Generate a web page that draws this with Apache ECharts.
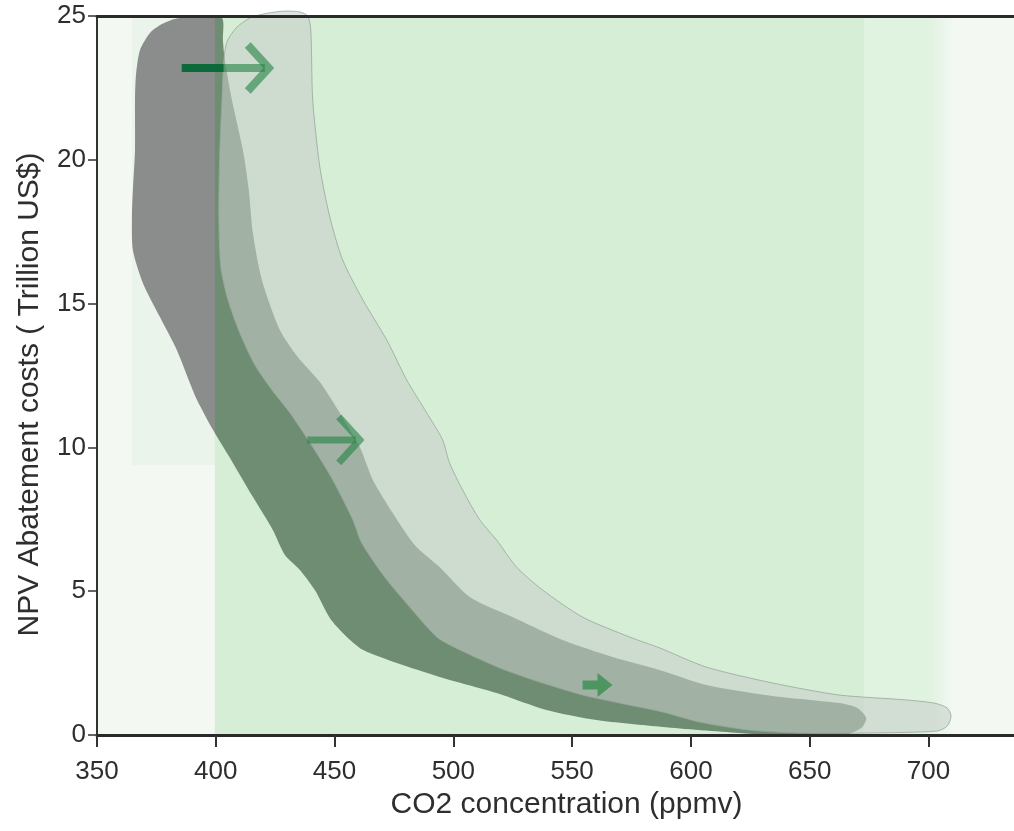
<!DOCTYPE html>
<html>
<head>
<meta charset="utf-8">
<script src="https://cdn.jsdelivr.net/npm/echarts@6/dist/echarts.min.js"></script>
<style>
  html, body { margin: 0; padding: 0; background: #ffffff; }
  #chart { width: 1014px; height: 831px; }
</style>
</head>
<body>
<div id="chart"></div>
<script>
// ---- tick labels ----
const xTicks = [350, 400, 450, 500, 550, 600, 650, 700];
const yTicks = [0, 5, 10, 15, 20, 25];

// ---- background shading zones (ppmv / trillion US$) ----
const bgZoneStart  = [364.7, 399.6, 673.0, 700.3];
const bgZoneEnd    = [399.6, 673.0, 700.3, 710.8];
const bgZoneBottom = [9.39, 0, 0, 0];

// ---- dark band (earlier estimate) outline ----
const darkBandX = [372.3,377.3,382.8,393.3,402.6,403.0,403.8,406.8,411.4,413.9,415.6,419.4,427.0,434.5,443.8,452.2,460.6,466.1,474.5,483.7,494.2,506.9,524.9,546.0,567.0,586.8,606.5,634.3,662.5,670.0,673.8,671.7,664.6,645.6,620.4,588.0,560.3,539.2,518.2,494.2,476.2,461.9,454.3,448.0,441.7,435.4,429.1,424.0,415.6,407.2,398.8,392.1,389.1,383.6,376.5,369.3,365.1,364.7,365.1,366.0,366.0,366.4,368.1];
const darkBandY = [24.41,24.72,24.90,24.97,24.93,24.17,23.47,22.08,20.34,18.95,17.46,15.82,14.08,13.14,12.27,11.20,10.01,8.87,7.72,6.61,5.84,4.80,4.10,3.30,2.71,2.26,1.74,1.36,1.11,0.94,0.59,0.24,0.00,-0.07,0.07,0.28,0.52,0.87,1.46,2.02,2.50,2.96,3.48,4.07,5.04,5.74,6.26,7.13,8.28,9.46,10.61,11.65,12.24,13.39,14.53,15.72,16.86,18.01,18.95,20.34,22.08,22.95,23.82];

// ---- light band (shifted estimate) outline ----
const lightBandX = [403.4,404.7,408.5,414.3,421.9,429.1,435.4,438.7,440.0,440.8,443.8,448.0,453.4,461.9,472.0,480.4,488.8,495.5,498.4,503.9,511.1,518.2,526.6,537.6,554.4,574.1,586.8,606.5,634.3,662.5,690.6,702.4,707.9,709.5,707.9,703.7,676.3,645.6,624.6,603.6,588.0,569.9,554.4,536.3,519.5,502.6,493.0,481.6,471.1,461.4,457.7,449.2,440.8,431.2,423.6,416.4,410.1,405.1,402.1,401.3,401.7,402.6];
const lightBandY = [23.47,24.10,24.58,24.93,25.10,25.17,25.14,25.00,24.51,22.08,19.75,18.01,16.52,15.13,13.73,12.34,11.20,10.26,9.46,8.52,7.48,6.78,5.84,5.04,4.10,3.41,3.03,2.36,1.81,1.39,1.22,1.11,0.94,0.66,0.31,0.14,0.07,0.07,0.17,0.45,0.80,1.11,1.39,1.84,2.33,2.96,3.41,4.45,5.49,6.68,7.48,8.87,10.01,11.20,12.00,12.87,13.98,15.13,16.27,18.01,20.34,22.08];

// ---- shift arrows ----
const arrowTail = [385.7, 438.7, 554.4];
const arrowTip  = [422.3, 460.6, 567.0];
const arrowY    = [23.19, 10.26, 1.74];
const arrowKind = ['line', 'line', 'block'];

const FONT = '"Liberation Sans", Arial, Helvetica, sans-serif';
const TEXT = '#2e2e2e';

// horizontal crossings of a polygon -> inside spans
function spans(xs, ys, y) {
  const c = [];
  const n = xs.length;
  for (let i = 0; i < n; i++) {
    const j = (i + 1) % n;
    if ((ys[i] > y) !== (ys[j] > y)) {
      c.push(xs[i] + (y - ys[i]) * (xs[j] - xs[i]) / (ys[j] - ys[i]));
    }
  }
  c.sort((a, b) => a - b);
  const out = [];
  for (let k = 0; k + 1 < c.length; k += 2) out.push([c[k], c[k + 1]]);
  return out;
}
function subtract(segs, cut) {
  const out = [];
  segs.forEach(([a, b]) => {
    let pieces = [[a, b]];
    cut.forEach(([c0, c1]) => {
      const next = [];
      pieces.forEach(([p0, p1]) => {
        if (c1 <= p0 || c0 >= p1) { next.push([p0, p1]); return; }
        if (c0 > p0) next.push([p0, c0]);
        if (c1 < p1) next.push([c1, p1]);
      });
      pieces = next;
    });
    out.push(...pieces);
  });
  return out.filter(s => s[1] - s[0] > 0.05);
}

const chart = echarts.init(document.getElementById('chart'), null, { renderer: 'canvas' });

const bgColors = ['#ebf4eb', '#d6eed6', '#e0f2e0', null];

const option = {
  animation: false,
  backgroundColor: '#ffffff',
  grid: { left: 97, right: 0, top: 16, bottom: 96, show: true, backgroundColor: '#f3f8f3', borderWidth: 0 },
  xAxis: [
    {
      type: 'value', min: 350, max: 736, position: 'bottom', z: 10,
      axisLine: { show: true, onZero: false, lineStyle: { color: '#2a2a2a', width: 3 } },
      axisTick: { show: true, length: 12, customValues: xTicks, lineStyle: { color: '#333', width: 2 } },
      axisLabel: { customValues: xTicks, fontSize: 26, fontFamily: FONT, color: TEXT, margin: 24 },
      splitLine: { show: false },
      name: 'CO2 concentration (ppmv)', nameLocation: 'middle', nameGap: 49,
      nameTextStyle: { fontSize: 30, fontFamily: FONT, color: TEXT, padding: [0, 0, 0, 22] }
    },
    {
      type: 'value', min: 350, max: 736, position: 'top', z: 10,
      axisLine: { show: true, onZero: false, lineStyle: { color: '#2a2a2a', width: 3 } },
      axisTick: { show: false }, axisLabel: { show: false }, splitLine: { show: false }
    }
  ],
  yAxis: {
    type: 'value', min: 0, max: 25, interval: 5, z: 10,
    axisLine: { show: true, onZero: false, lineStyle: { color: '#333', width: 2 } },
    axisTick: { show: true, length: 9, lineStyle: { color: '#333', width: 1.5 } },
    axisLabel: { fontSize: 26, fontFamily: FONT, color: TEXT, margin: 11,
      formatter: v => (yTicks.indexOf(v) >= 0 ? String(v) : '') },
    splitLine: { show: false },
    name: 'NPV Abatement costs ( Trillion US$)', nameLocation: 'middle', nameGap: 52,
    nameTextStyle: { fontSize: 30, fontFamily: FONT, color: TEXT, padding: [0, 38, 0, 0] }
  },
  series: [
    {
      type: 'custom', name: 'background', silent: true, z: 1,
      data: bgZoneStart.map((_, i) => [bgZoneStart[i], bgZoneBottom[i]]),
      renderItem: (params, api) => {
        const i = params.dataIndex;
        const p0 = api.coord([bgZoneStart[i], 25]);
        const p1 = api.coord([bgZoneEnd[i], bgZoneBottom[i]]);
        const fill = bgColors[i] || new echarts.graphic.LinearGradient(0, 0, 1, 0, [
          { offset: 0, color: '#e0f2e0' }, { offset: 1, color: '#f3f8f3' }
        ]);
        return { type: 'rect', shape: { x: p0[0], y: p0[1], width: p1[0] - p0[0], height: p1[1] - p0[1] }, style: { fill } };
      }
    },
    {
      type: 'custom', name: 'dark band', silent: true, z: 3,
      data: [[darkBandX[0], darkBandY[0]]],
      renderItem: (params, api) => {
        const pts = darkBandX.map((x, i) => api.coord([x, darkBandY[i]]));
        const edge = api.coord([bgZoneStart[1], 0])[0];
        const fill = new echarts.graphic.LinearGradient(edge - 0.5, 0, edge + 0.5, 0, [
          { offset: 0, color: '#8b8d8d' }, { offset: 1, color: '#6f8d73' }
        ], true);
        return { type: 'polygon', shape: { points: pts, smooth: 0.25 }, style: { fill } };
      }
    },
    {
      type: 'custom', name: 'light band', silent: true, z: 4,
      data: [[lightBandX[0], lightBandY[0]]],
      renderItem: (params, api) => {
        const pts = lightBandX.map((x, i) => api.coord([x, lightBandY[i]]));
        return { type: 'polygon', shape: { points: pts, smooth: 0.25 },
          style: { fill: 'rgba(198,206,203,0.57)', stroke: 'rgba(150,168,154,0.8)', lineWidth: 1 } };
      }
    },
    {
      type: 'custom', name: 'arrows', silent: true, z: 5,
      data: arrowTail.map((x, i) => [x, arrowY[i]]),
      renderItem: (params, api) => {
        const i = params.dataIndex;
        const p0 = api.coord([arrowTail[i], arrowY[i]]);
        const p1 = api.coord([arrowTip[i], arrowY[i]]);
        const children = [];
        if (arrowKind[i] === 'block') {
          const hl = 15, hh = 12, sh = 4.5;
          children.push({ type: 'polygon', shape: { points: [
            [p0[0], p0[1] - sh], [p1[0] - hl, p1[1] - sh], [p1[0] - hl, p1[1] - hh], [p1[0], p1[1]],
            [p1[0] - hl, p1[1] + hh], [p1[0] - hl, p1[1] + sh], [p0[0], p0[1] + sh]] },
            style: { fill: 'rgba(50,140,75,0.75)' } });
          return { type: 'group', children };
        }
        const w = i === 0 ? 8 : 7;
        const hx = 21, hy = 23;
        const col = 'rgba(40,130,70,0.62)';
        children.push({ type: 'line', shape: { x1: p0[0], y1: p0[1], x2: p1[0] - 4, y2: p1[1] },
          style: { stroke: col, lineWidth: w, lineCap: 'butt' } });
        children.push({ type: 'polyline', shape: { points: [[p1[0] - hx, p1[1] - hy], [p1[0], p1[1]], [p1[0] - hx, p1[1] + hy]] },
          style: { stroke: col, lineWidth: w, lineCap: 'butt', lineJoin: 'miter', fill: null } });
        // portion lying on the dark band alone looks deep green
        const onDark = subtract(
          spans(darkBandX, darkBandY, arrowY[i]).map(([a, b]) => [Math.max(a, arrowTail[i]), Math.min(b, arrowTip[i])]).filter(s => s[1] > s[0]),
          spans(lightBandX, lightBandY, arrowY[i]));
        onDark.forEach(([a, b]) => {
          const q0 = api.coord([a, arrowY[i]]), q1 = api.coord([b, arrowY[i]]);
          children.push({ type: 'line', shape: { x1: q0[0], y1: q0[1], x2: q1[0], y2: q1[1] },
            style: { stroke: '#0c6a3a', lineWidth: w, lineCap: 'butt' } });
        });
        return { type: 'group', children };
      }
    }
  ]
};
chart.setOption(option);
</script>
</body>
</html>
